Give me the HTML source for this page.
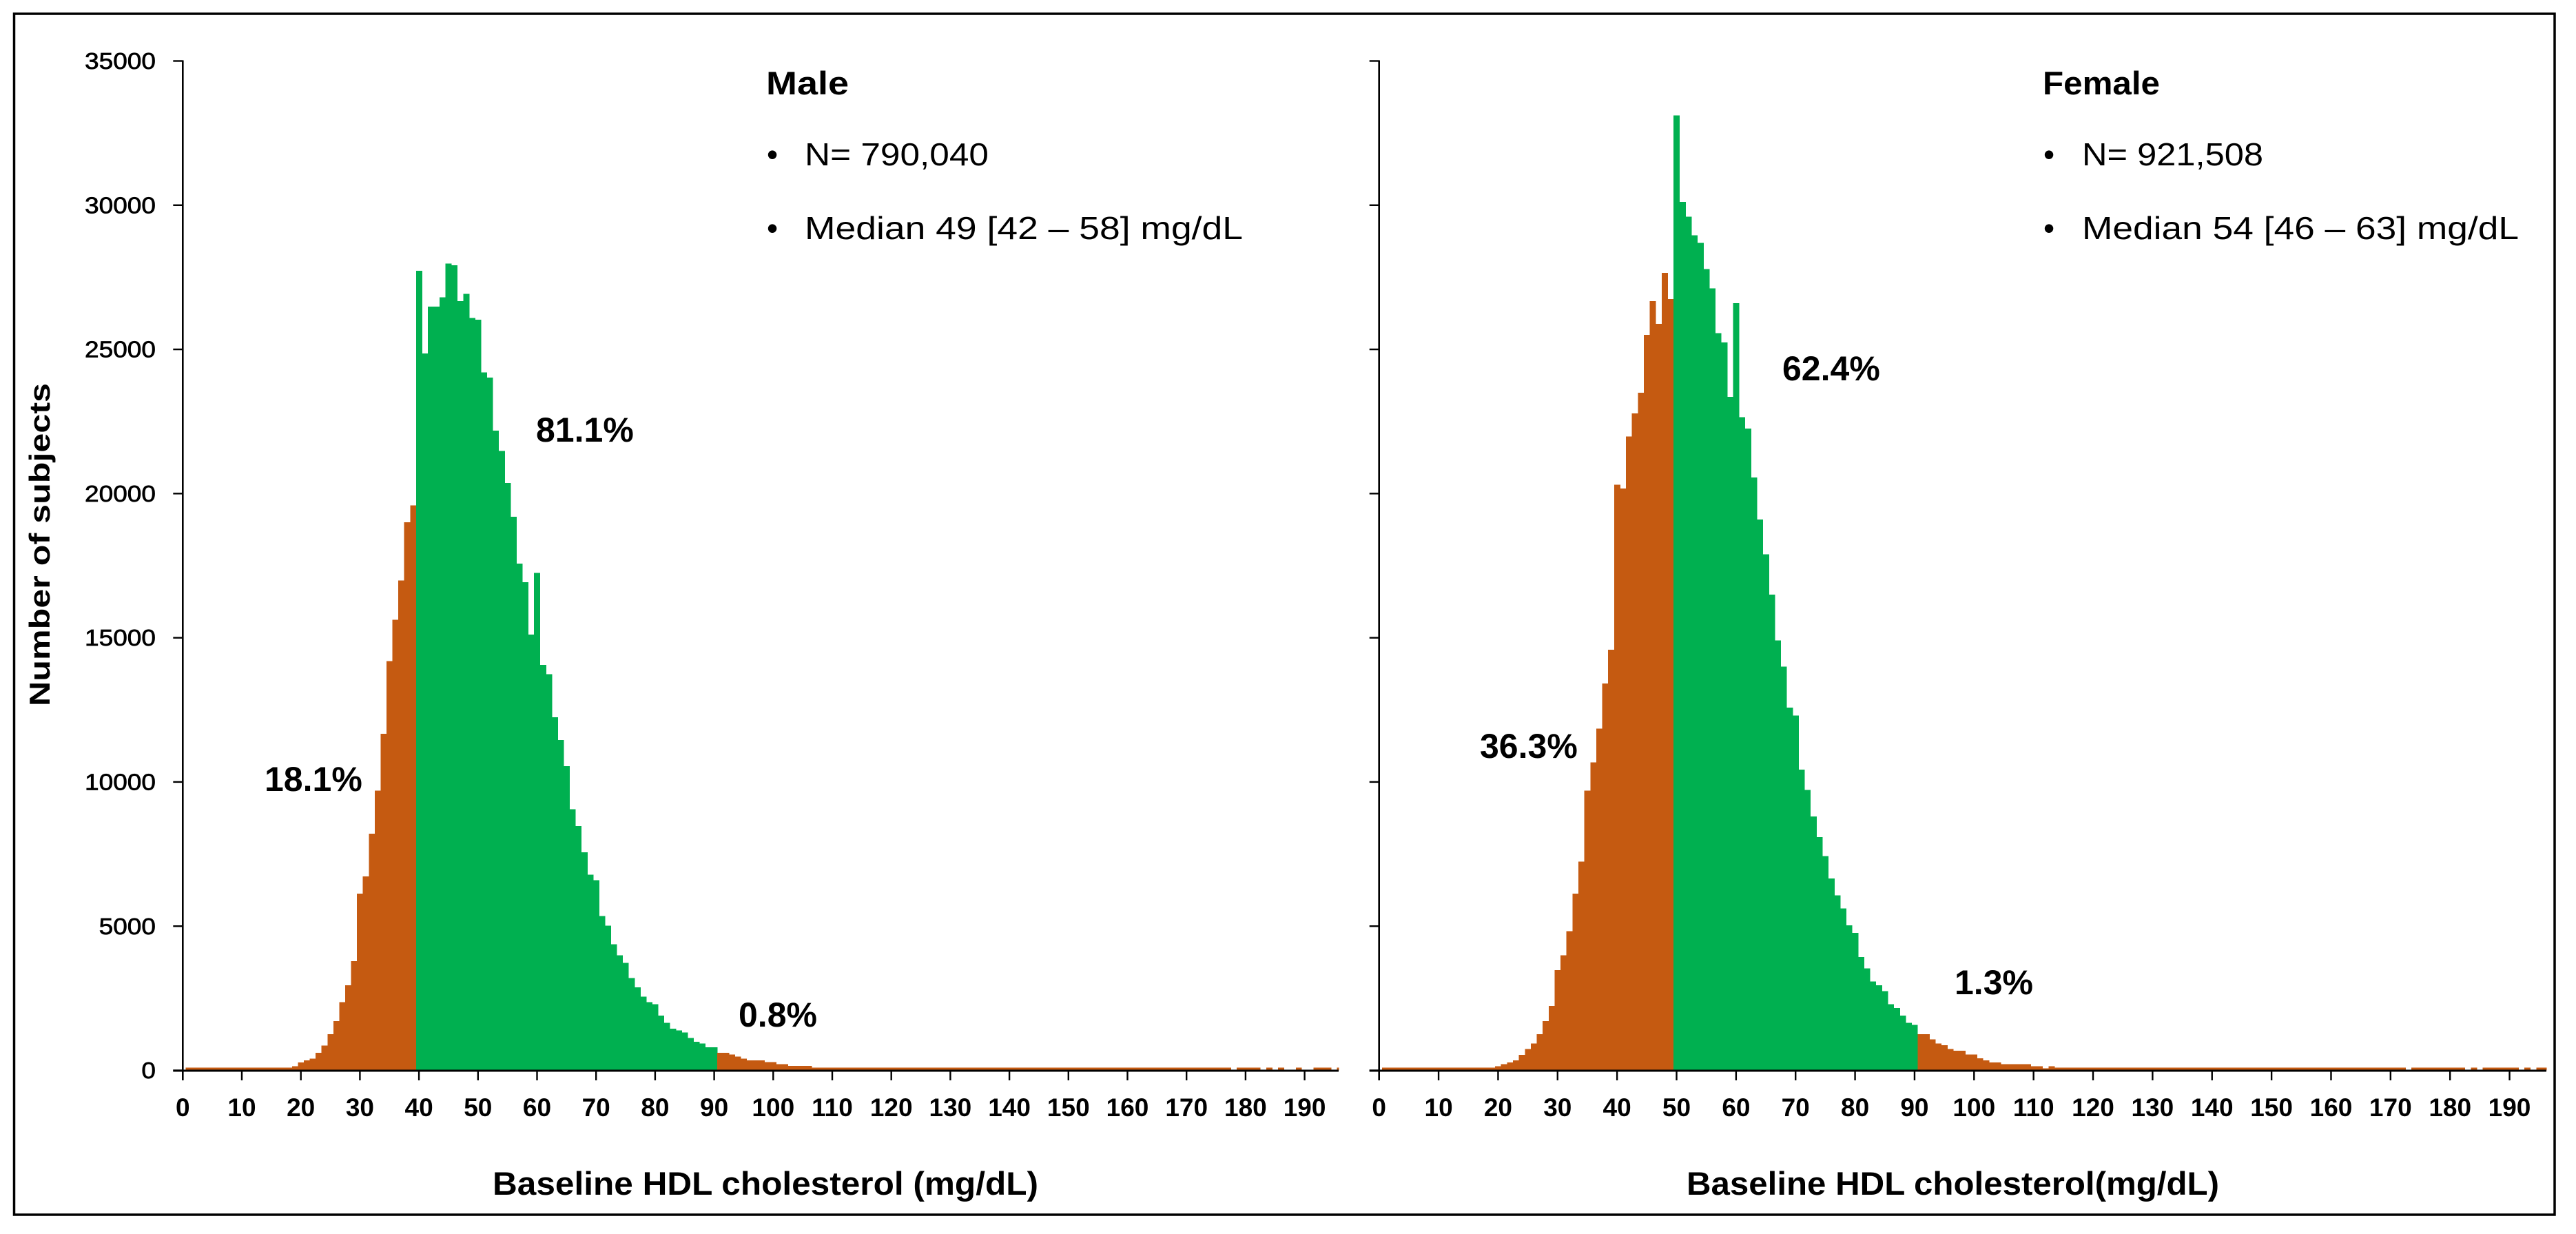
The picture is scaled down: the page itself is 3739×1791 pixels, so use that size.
<!DOCTYPE html>
<html lang="en">
<head>
<meta charset="utf-8">
<title>Baseline HDL cholesterol distribution by sex</title>
<style>
html,body{margin:0;padding:0;background:#fff;}
svg{display:block;}
text{font-family:"Liberation Sans",sans-serif;fill:#000;}
.b{font-weight:bold;}
</style>
</head>
<body>
<svg id="figure" xmlns="http://www.w3.org/2000/svg" width="3739" height="1791" viewBox="0 0 3739 1791">
  <rect x="0" y="0" width="3739" height="1791" fill="#fff"/>
  <rect x="20.5" y="20" width="3687.5" height="1743" fill="none" stroke="#000" stroke-width="3.5"/>
  <g id="male-panel"></g>
  <g id="female-panel"></g>

  <text class="b" font-size="42" transform="translate(72,1025) rotate(-90)" textLength="469" lengthAdjust="spacingAndGlyphs">Number of subjects</text>
  <text class="b" font-size="47" x="715" y="1734" textLength="792" lengthAdjust="spacingAndGlyphs">Baseline HDL cholesterol (mg/dL)</text>
  <text class="b" font-size="47" x="2448" y="1734" textLength="773" lengthAdjust="spacingAndGlyphs">Baseline HDL cholesterol(mg/dL)</text>

  <text class="b" font-size="47" x="1112" y="137" textLength="120" lengthAdjust="spacingAndGlyphs">Male</text>
  <text font-size="46" x="1113" y="240">•</text>
  <text font-size="46" x="1168" y="240" textLength="267" lengthAdjust="spacingAndGlyphs">N= 790,040</text>
  <text font-size="46" x="1113" y="347">•</text>
  <text font-size="46" x="1168" y="347" textLength="636" lengthAdjust="spacingAndGlyphs">Median 49 [42 – 58] mg/dL</text>

  <text class="b" font-size="47" x="2965" y="137" textLength="170" lengthAdjust="spacingAndGlyphs">Female</text>
  <text font-size="46" x="2966" y="240">•</text>
  <text font-size="46" x="3022" y="240" textLength="263" lengthAdjust="spacingAndGlyphs">N= 921,508</text>
  <text font-size="46" x="2966" y="347">•</text>
  <text font-size="46" x="3022" y="347" textLength="634" lengthAdjust="spacingAndGlyphs">Median 54 [46 – 63] mg/dL</text>

  <text class="b" font-size="50" x="778" y="641">81.1%</text>
  <text class="b" font-size="50" x="384" y="1148">18.1%</text>
  <text class="b" font-size="50" x="1072" y="1490">0.8%</text>
  <text class="b" font-size="50" x="2587" y="552">62.4%</text>
  <text class="b" font-size="50" x="2148" y="1100">36.3%</text>
  <text class="b" font-size="50" x="2837" y="1443">1.3%</text>
</svg>
<script>
var firstBin = 1;
var xTickLabels = [0,10,20,30,40,50,60,70,80,90,100,110,120,130,140,150,160,170,180,190];
var yTickLabels = [0,5000,10000,15000,20000,25000,30000,35000];
var yMax = 35000;
var maleGreenRange = [40,90];
var femaleGreenRange = [50,90];
var maleCounts = [
90,90,90,90,90,90,90,90,90,90,
90,90,90,90,90,90,90,90,146,280,
351,404,612,860,1254,1708,2363,2953,3791,6133,
6725,8206,9697,11670,14193,15622,16986,19005,19590,27720,
24857,26484,26484,26805,27975,27920,26676,26931,26090,26028,
24198,24017,22187,21475,20369,19198,17571,16922,15110,17251,
14059,13737,12246,11458,10548,9054,8474,7564,6789,6589,
5356,5022,4376,3985,3722,3206,2879,2552,2360,2298,
1899,1644,1445,1390,1319,1128,991,927,800,800,
609,609,545,483,411,346,346,346,282,282,
220,220,155,155,155,155,90,90,90,90,
90,90,90,90,90,90,90,90,90,90,
90,90,90,90,90,90,90,90,90,90,
90,90,90,90,90,90,90,90,90,90,
90,90,90,90,90,90,90,90,90,90,
90,90,90,90,90,90,90,90,90,90,
90,90,90,90,90,90,90,90,90,90,
90,90,90,90,90,90,90,0,90,90,
90,90,0,90,0,90,0,0,90,0,
0,90,90,90,0,90
];
var femaleCounts = [
90,90,90,90,90,90,90,90,90,90,
90,90,90,90,90,90,90,90,90,146,
217,280,351,538,736,932,1254,1708,2239,3471,
3987,4828,6133,7241,9697,10681,11852,13417,14587,20312,
20175,21984,22779,23493,25505,26676,25890,27652,26740,33112,
30113,29600,28952,28697,27782,27122,25560,25240,23358,26602,
22643,22249,20557,19100,17900,16500,14908,13996,12574,12306,
10428,9719,8806,8082,7427,6649,6073,5617,5027,4771,
3928,3538,3082,2948,2747,2291,2157,1902,1648,1582,
1259,1259,1073,937,872,736,683,683,549,549,
416,346,280,280,215,215,215,215,215,146,
146,67,146,90,90,90,90,90,90,90,
90,90,90,90,90,90,90,90,90,90,
90,90,90,90,90,90,90,90,90,90,
90,90,90,90,90,90,90,90,90,90,
90,90,90,90,90,90,90,90,90,90,
90,90,90,90,90,90,90,90,90,90,
90,90,0,90,90,90,90,90,90,90,
90,90,0,90,0,90,90,90,90,90,
90,0,90,0,90,90
];

var SVG_NS = 'http://www.w3.org/2000/svg';
var plotTop = 88.5;
var plotBase = 1553.5;

function yScale(v){
  return plotBase - v * (plotBase - plotTop) / yMax;
}

function makeNode(tag, parent){
  var n = document.createElementNS(SVG_NS, tag);
  parent.appendChild(n);
  return n;
}

function drawBars(g, counts, greenRange, x0, unit, xEnd){
  counts.forEach(function(count, i){
    if(count <= 0){ return; }
    var bin = firstBin + i;
    var left = x0 + unit * (bin - 0.5);
    var right = Math.min(x0 + unit * (bin + 0.5), xEnd);
    var isGreen = bin >= greenRange[0] && bin <= greenRange[1];
    var r = makeNode('rect', g);
    r.setAttribute('x', left.toFixed(2));
    r.setAttribute('y', yScale(count).toFixed(2));
    r.setAttribute('width', (right - left + 0.4).toFixed(2));
    r.setAttribute('height', (plotBase - yScale(count)).toFixed(2));
    r.setAttribute('fill', isGreen ? '#00B050' : '#C55A11');
    r.setAttribute('shape-rendering', 'crispEdges');
    
    
  });
}

function drawAxes(g, x0, unit, xEnd, showYLabels){
  var yAxis = makeNode('line', g);
  yAxis.setAttribute('x1', x0);
  yAxis.setAttribute('x2', x0);
  yAxis.setAttribute('y1', plotTop - 1);
  yAxis.setAttribute('y2', 1568);
  yAxis.setAttribute('stroke', '#000');
  yAxis.setAttribute('stroke-width', '2.6');
  
  

  var xAxis = makeNode('line', g);
  xAxis.setAttribute('x1', x0 - 14);
  xAxis.setAttribute('x2', xEnd);
  xAxis.setAttribute('y1', 1554);
  xAxis.setAttribute('y2', 1554);
  xAxis.setAttribute('stroke', '#000');
  xAxis.setAttribute('stroke-width', '3');
  
  

  yTickLabels.forEach(function(v){
    var y = yScale(v);
    var t = makeNode('line', g);
    t.setAttribute('x1', x0 - 14);
    t.setAttribute('x2', x0);
    t.setAttribute('y1', y);
    t.setAttribute('y2', y);
    t.setAttribute('stroke', '#000');
    t.setAttribute('stroke-width', '2.4');
    
    
    if(showYLabels){
      var s = String(v);
      var len = s.length * 20.6;
      var l = makeNode('text', g);
      l.setAttribute('x', (226 - len).toFixed(1));
      l.setAttribute('y', (y + 11.6).toFixed(1));
      l.setAttribute('font-size', '33');
      l.setAttribute('stroke', '#000');
      l.setAttribute('stroke-width', '0.7');
      l.setAttribute('textLength', len.toFixed(1));
      l.setAttribute('lengthAdjust', 'spacingAndGlyphs');
      
      
      l.textContent = s;
    }
  });

  xTickLabels.forEach(function(v){
    var x = x0 + unit * v;
    var t = makeNode('line', g);
    t.setAttribute('x1', x);
    t.setAttribute('x2', x);
    t.setAttribute('y1', 1554);
    t.setAttribute('y2', 1568);
    t.setAttribute('stroke', '#000');
    t.setAttribute('stroke-width', '2.4');
    
    
    var l = makeNode('text', g);
    l.setAttribute('x', x.toFixed(1));
    l.setAttribute('y', '1620');
    l.setAttribute('font-size', '37');
    l.setAttribute('font-weight', 'bold');
    l.setAttribute('text-anchor', 'middle');
    
    
    l.textContent = String(v);
  });
}

drawBars(document.getElementById('male-panel'), maleCounts, maleGreenRange, 265.3, 8.57, 1943);
drawAxes(document.getElementById('male-panel'), 265.3, 8.57, 1943, true);
drawBars(document.getElementById('female-panel'), femaleCounts, femaleGreenRange, 2001.7, 8.636, 3696);
drawAxes(document.getElementById('female-panel'), 2001.7, 8.636, 3696, false);
</script>
</body>
</html>
